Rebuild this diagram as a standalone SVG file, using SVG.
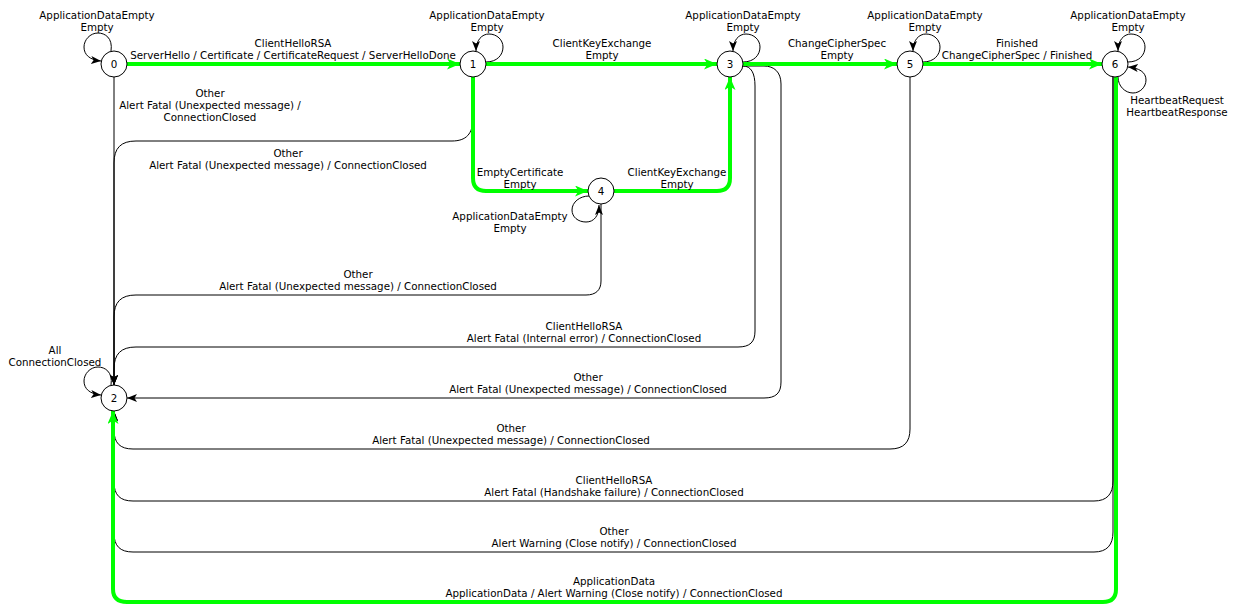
<svg xmlns="http://www.w3.org/2000/svg" width="1234" height="605" viewBox="0 0 1234 605">
<style>
text{font-family:"DejaVu Sans","Liberation Sans",sans-serif;font-size:10.3px;fill:#000;text-anchor:middle}
.b{fill:none;stroke:#000;stroke-width:1}
.g{fill:none;stroke:#00ff00;stroke-width:4}
.n{fill:#fff;stroke:#000;stroke-width:1}
</style>
<defs>
<marker id="ab" markerUnits="userSpaceOnUse" markerWidth="10" markerHeight="8" viewBox="0 0 10 8" refX="10" refY="4" orient="auto"><path d="M0,0 L10,4 L0,8 L2.5,4 z" fill="#000"/></marker>
<marker id="ag" markerUnits="userSpaceOnUse" markerWidth="13" markerHeight="11" viewBox="0 0 13 11" refX="13" refY="5.5" orient="auto"><path d="M0,0 L13,5.5 L0,11 L3.5,5.5 z" fill="#00ff00"/></marker>
</defs>
<rect width="1234" height="605" fill="#fff"/>
<g id="connectors">
<g id="black">
<path class="b" marker-end="url(#ab)" d="M111,51 C113,38 105,33 98,33 C90,33 84,40 84,47 C84,55 90,60 101,61"/>
<path class="b" marker-end="url(#ab)" d="M111,385 C113,372 105,367 98,367 C90,367 84,374 84,381 C84,389 90,394 101,395"/>
<path class="b" marker-end="url(#ab)" d="M486,62 C497,62 503,55 503,47 C503,40 497,34 489,34 C482,34 476,40 476,51"/>
<path class="b" marker-end="url(#ab)" d="M743,62 C754,62 760,55 760,47 C760,40 754,34 746,34 C739,34 733,40 733,51"/>
<path class="b" marker-end="url(#ab)" d="M923,62 C934,62 940,55 940,47 C940,40 934,34 926,34 C919,34 913,40 913,51"/>
<path class="b" marker-end="url(#ab)" d="M1128,62 C1139,62 1145,55 1145,47 C1145,40 1139,34 1131,34 C1124,34 1118,40 1118,51"/>
<path class="b" marker-end="url(#ab)" d="M1118,77 C1118,86 1125,93 1133,93 C1140,93 1146,87 1146,80 C1146,72 1139,68 1128,67"/>
<path class="b" marker-end="url(#ab)" d="M589,196 C580,196 572,202 572,210 C572,217 578,222 586,222 C594,222 599,216 599,205"/>
<path class="b" marker-end="url(#ab)" d="M114,77 L114,385"/>
<path class="b" marker-end="url(#ab)" d="M473,77 L473,118 C473,134 466,141 452,141 L136,141 C121,141 114,148 114,163 L114,385"/>
<path class="b" marker-end="url(#ab)" d="M601,204 L601,281 C601,290 596,295 586,295 L136,295 C121,295 114,302 114,317 L114,385"/>
<path class="b" marker-end="url(#ab)" d="M743,66 C751,66 755,73 755,86 L755,331 C755,342 750,347 738,347 L136,347 C121,347 114,354 114,369 L114,385"/>
<path class="b" marker-end="url(#ab)" d="M743,66 L764,66 C774,66 781,72 781,84 L781,382 C781,393 776,398 764,398 L127,398"/>
<path class="b" marker-end="url(#ab)" d="M910,77 L910,429 C910,442 904,449 890,449 L133,449 C120,449 114,443 114,430 L114,411"/>
<path class="b" marker-end="url(#ab)" d="M1113,77 L1113,481 C1113,494 1107,501 1094,501 L133,501 C120,501 114,495 114,482 L114,411"/>
<path class="b" marker-end="url(#ab)" d="M1113,77 L1113,532 C1113,545 1107,552 1094,552 L133,552 C120,552 114,546 114,533 L114,411"/>
</g>
<g id="green">
<path class="g" marker-end="url(#ag)" d="M127,64 L460,64"/>
<path class="g" marker-end="url(#ag)" d="M486,64 L717,64"/>
<path class="g" marker-end="url(#ag)" d="M743,64 L897,64"/>
<path class="g" marker-end="url(#ag)" d="M923,64 L1102,64"/>
<path class="g" marker-end="url(#ag)" d="M473,77 L473,178 Q473,191 486,191 L588,191"/>
<path class="g" marker-end="url(#ag)" d="M614,191 L717,191 Q730,191 730,178 L730,77"/>
<path class="g" marker-end="url(#ag)" d="M1116,77 L1116,589 Q1116,602 1103,602 L127,602 Q113,602 113,589 L113,411"/>
</g>
<g id="labels">
<text x="97" y="19">ApplicationDataEmpty<tspan x="97" dy="12">Empty</tspan></text>
<text x="487" y="19">ApplicationDataEmpty<tspan x="487" dy="12">Empty</tspan></text>
<text x="743" y="19">ApplicationDataEmpty<tspan x="743" dy="12">Empty</tspan></text>
<text x="925" y="19">ApplicationDataEmpty<tspan x="925" dy="12">Empty</tspan></text>
<text x="1128" y="19">ApplicationDataEmpty<tspan x="1128" dy="12">Empty</tspan></text>
<text x="1177" y="104">HeartbeatRequest<tspan x="1177" dy="12">HeartbeatResponse</tspan></text>
<text x="510" y="220">ApplicationDataEmpty<tspan x="510" dy="12">Empty</tspan></text>
<text x="55" y="354">All<tspan x="55" dy="12">ConnectionClosed</tspan></text>
<text x="293" y="47">ClientHelloRSA<tspan x="293" dy="12">ServerHello / Certificate / CertificateRequest / ServerHelloDone</tspan></text>
<text x="602" y="47">ClientKeyExchange<tspan x="602" dy="12">Empty</tspan></text>
<text x="837" y="47">ChangeCipherSpec<tspan x="837" dy="12">Empty</tspan></text>
<text x="1017" y="47">Finished<tspan x="1017" dy="12">ChangeCipherSpec / Finished</tspan></text>
<text x="210" y="97">Other<tspan x="210" dy="12">Alert Fatal (Unexpected message) /</tspan><tspan x="210" dy="12">ConnectionClosed</tspan></text>
<text x="288" y="157">Other<tspan x="288" dy="12">Alert Fatal (Unexpected message) / ConnectionClosed</tspan></text>
<text x="520" y="176">EmptyCertificate<tspan x="520" dy="12">Empty</tspan></text>
<text x="677" y="176">ClientKeyExchange<tspan x="677" dy="12">Empty</tspan></text>
<text x="358" y="278">Other<tspan x="358" dy="12">Alert Fatal (Unexpected message) / ConnectionClosed</tspan></text>
<text x="584" y="330">ClientHelloRSA<tspan x="584" dy="12">Alert Fatal (Internal error) / ConnectionClosed</tspan></text>
<text x="588" y="381">Other<tspan x="588" dy="12">Alert Fatal (Unexpected message) / ConnectionClosed</tspan></text>
<text x="511" y="432">Other<tspan x="511" dy="12">Alert Fatal (Unexpected message) / ConnectionClosed</tspan></text>
<text x="614" y="484">ClientHelloRSA<tspan x="614" dy="12">Alert Fatal (Handshake failure) / ConnectionClosed</tspan></text>
<text x="614" y="535">Other<tspan x="614" dy="12">Alert Warning (Close notify) / ConnectionClosed</tspan></text>
<text x="614" y="585">ApplicationData<tspan x="614" dy="12">ApplicationData / Alert Warning (Close notify) / ConnectionClosed</tspan></text>
</g>
</g>
<g id="node0"><circle class="n" cx="114" cy="64" r="13"/><text x="114" y="67.5">0</text></g>
<g id="node1"><circle class="n" cx="473" cy="64" r="13"/><text x="473" y="67.5">1</text></g>
<g id="node2"><circle class="n" cx="114" cy="398" r="13"/><text x="114" y="401.5">2</text></g>
<g id="node3"><circle class="n" cx="730" cy="64" r="13"/><text x="730" y="67.5">3</text></g>
<g id="node4"><circle class="n" cx="601" cy="191" r="13"/><text x="601" y="194.5">4</text></g>
<g id="node5"><circle class="n" cx="910" cy="64" r="13"/><text x="910" y="67.5">5</text></g>
<g id="node6"><circle class="n" cx="1115" cy="64" r="13"/><text x="1115" y="67.5">6</text></g>
</svg>
